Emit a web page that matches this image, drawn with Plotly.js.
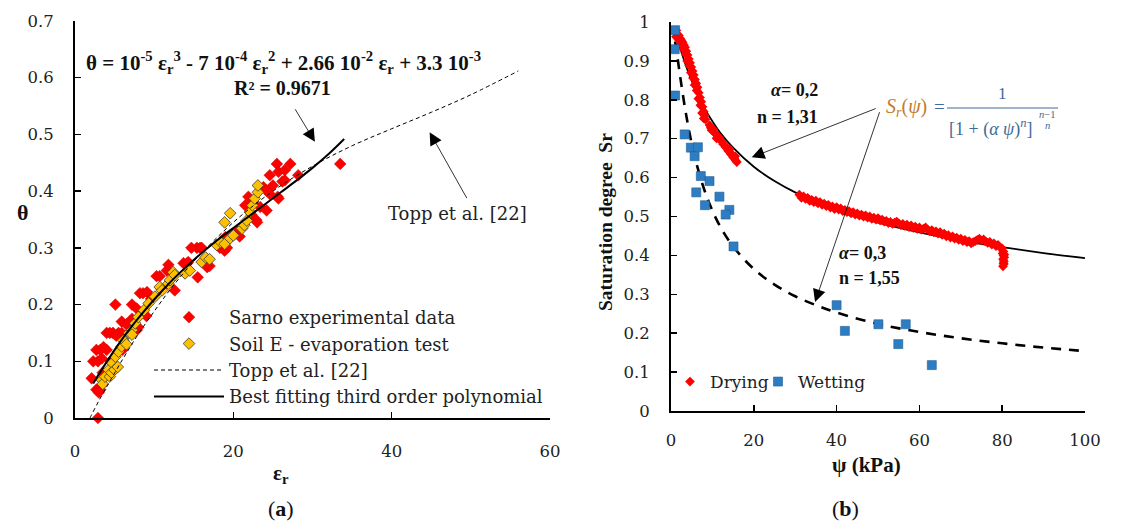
<!DOCTYPE html>
<html>
<head>
<meta charset="utf-8">
<script src="https://cdn.plot.ly/plotly-3.0.1.min.js"></script>
<style>html,body{margin:0;padding:0;background:#fff;}#chart{width:1148px;height:522px;}</style>
</head>
<body>
<div id="chart"></div>
<script>
// ---------------- (a) data ----------------
const sarnoEps = [2.9,2.7,2.9,3.2,3.0,2.1,2.3,2.9,3.4,2.7,3.2,4.0,3.6,3.5,4.5,4.0,4.4,4.8,5.5,5.9,5.2,6.0,5.9,6.5,7.2,7.8,5.1,7.2,7.8,8.0,8.2,8.6,9.1,9.0,9.6,10.3,10.7,10.9,11.6,11.8,12.6,13.7,14.1,14.3,14.7,15.4,15.8,15.5,16.0,16.7,17.0,18.3,18.9,19.2,19.0,20.0,20.5,20.8,21.5,21.9,22.3,22.5,22.9,23.0,23.4,23.8,24.2,24.2,24.6,24.6,25.0,25.5,25.6,25.7,25.7,26.2,26.5,26.5,27.2,28.2,33.5];
const sarnoTheta = [0.0,0.05,0.05,0.05,0.045,0.07,0.10,0.10,0.105,0.12,0.12,0.12,0.125,0.08,0.10,0.15,0.15,0.15,0.15,0.15,0.145,0.12,0.17,0.165,0.175,0.155,0.20,0.20,0.193,0.16,0.22,0.22,0.222,0.18,0.21,0.25,0.25,0.228,0.26,0.27,0.225,0.273,0.272,0.275,0.30,0.30,0.30,0.248,0.30,0.266,0.268,0.30,0.295,0.30,0.319,0.325,0.33,0.32,0.375,0.39,0.358,0.378,0.349,0.345,0.372,0.407,0.366,0.401,0.428,0.395,0.41,0.448,0.39,0.434,0.387,0.417,0.419,0.437,0.448,0.428,0.448];

const soilEps = [3.4,3.5,3.8,4.25,4.4,4.6,4.7,5.0,5.1,5.4,5.5,5.9,6.1,6.5,6.8,7.2,7.2,7.6,8.0,8.7,9.3,10.1,10.7,11.0,11.8,12.0,12.4,12.6,13.9,14.5,16.0,16.5,17.0,17.9,18.4,18.9,19.6,20.0,21.1,21.4,21.7,18.9,19.6,22.1,22.4,22.7,23.1,23.1];
const soilTheta = [0.067,0.06,0.073,0.085,0.073,0.08,0.097,0.085,0.108,0.09,0.117,0.126,0.137,0.13,0.15,0.155,0.147,0.167,0.178,0.19,0.202,0.214,0.231,0.225,0.237,0.243,0.257,0.252,0.255,0.26,0.275,0.283,0.28,0.305,0.31,0.307,0.317,0.322,0.334,0.34,0.348,0.345,0.361,0.363,0.375,0.387,0.398,0.41];

const toppEps   = [1.9,2,3,4,6,8,10,12,15,20,25,30,35,40,45,50,56];
const toppTheta = [0.0,0.003,0.030,0.055,0.103,0.148,0.188,0.226,0.276,0.345,0.400,0.444,0.480,0.510,0.539,0.570,0.612];

const fitEps   = [2.3,4,6,8,10,12,14,16,18,20,22,24,26,28,30,32,34];
const fitTheta = [0.061,0.099,0.140,0.176,0.209,0.239,0.266,0.291,0.314,0.335,0.356,0.377,0.398,0.419,0.441,0.465,0.492];

// ---------------- (b) data ----------------
const dryPsi = [1.0,1.3,1.6,1.2,1.9,2.2,1.8,2.5,2.8,2.4,3.1,3.4,3.0,3.7,3.5,4.0,4.3,3.9,4.6,4.4,4.9,5.2,4.8,5.5,5.3,5.8,6.1,5.7,6.4,6.2,6.7,7.0,6.6,7.3,7.1,7.6,7.9,7.5,8.1,8.3,7.9,
  9.3,9.6,9.8,10.2,10.5,10.8,11.2,11.0,11.6,12.0,12.3,12.6,12.9,13.2,13.5,13.8,14.1,14.4,14.7,15.0,15.3,15.6,15.9,15.5,14.2,
  31.0,31.5,32,32.5,33,33.5,34,34.5,35,35.5,36,36.5,37,37.5,38,38.5,39,39.5,40,40.5,41,41.5,42,42.5,43,43.5,44,44.5,45,45.5,46,46.5,47,47.5,48,48.5,49,49.5,50,50.5,51,51.5,52,52.5,53,53.5,54,54.5,55,55.5,56,56.5,57,57.5,58,58.5,59,59.5,60,60.5,61,61.5,62,62.5,63,63.5,64,64.5,65,65.5,66,66.5,67,67.5,68,68.5,69,69.5,70,70.5,71,71.5,72,72.5,73,73.5,74,74.5,75,75.5,76,76.5,77,77.5,78,78.5,79,79.5,80,80.3,80.3,80.5,80.2,80.4,80.3,80.2,80.4,80.5,80.1];
const drySr = [0.975,0.978,0.968,0.962,0.965,0.958,0.955,0.953,0.948,0.944,0.941,0.935,0.930,0.925,0.918,0.915,0.905,0.900,0.895,0.888,0.884,0.874,0.870,0.864,0.856,0.852,0.842,0.838,0.832,0.824,0.818,0.806,0.803,0.795,0.786,0.782,0.770,0.766,0.760,0.750,0.752,
  0.735,0.728,0.722,0.724,0.716,0.712,0.708,0.701,0.703,0.695,0.693,0.686,0.684,0.678,0.676,0.669,0.667,0.661,0.658,0.652,0.650,0.644,0.640,0.655,0.673,
  0.556,0.548,0.552,0.545,0.548,0.540,0.543,0.537,0.541,0.534,0.537,0.530,0.533,0.527,0.530,0.523,0.526,0.519,0.524,0.518,0.521,0.514,0.517,0.511,0.514,0.508,0.511,0.505,0.508,0.502,0.505,0.500,0.503,0.497,0.500,0.494,0.497,0.492,0.496,0.490,0.492,0.487,0.489,0.483,0.486,0.481,0.484,0.487,0.482,0.478,0.481,0.476,0.479,0.473,0.477,0.471,0.474,0.468,0.472,0.466,0.469,0.472,0.466,0.462,0.465,0.459,0.462,0.456,0.460,0.453,0.456,0.449,0.452,0.446,0.449,0.443,0.446,0.440,0.443,0.437,0.440,0.434,0.437,0.431,0.434,0.437,0.440,0.443,0.438,0.441,0.436,0.432,0.435,0.428,0.431,0.424,0.427,0.420,0.418,0.410,0.400,0.395,0.390,0.385,0.380,0.372,0.378,0.402,0.405];

const wetPsi = [1.0,0.9,1.0,3.3,4.8,6.5,5.7,7.2,9.3,6.1,11.7,8.2,14.1,13.2,15.1,40.0,42.0,50.1,54.9,56.7,63.0];
const wetSr  = [0.979,0.930,0.811,0.711,0.677,0.678,0.655,0.604,0.591,0.562,0.551,0.529,0.517,0.505,0.423,0.272,0.206,0.223,0.172,0.223,0.118];

const vgDryPsi = [1,2,3,4,5,6,8,10,12,15,20,25,30,40,50,60,70,80,90,100];
const vgDrySr  = [0.973,0.940,0.907,0.876,0.849,0.824,0.780,0.745,0.714,0.677,0.628,0.591,0.562,0.517,0.484,0.459,0.438,0.421,0.406,0.393];
const vgWetPsi = [1,1.5,2,3,4,5,6,8,10,12,15,20,25,30,35,40,50,60,70,80,90,100];
const vgWetSr  = [0.95,0.914,0.876,0.804,0.741,0.687,0.642,0.570,0.515,0.472,0.423,0.365,0.325,0.295,0.272,0.253,0.224,0.203,0.187,0.174,0.163,0.154];

// ---------------- layout helpers ----------------
const W = 1148, H = 522;
const SERIF = "Liberation Serif, 'Times New Roman', serif";
const WIDE = "DejaVu Serif, serif";
const fx = p => p / W;
const fy = p => 1 - p / H;
const FORM = '#3e6b96';

const traces = [
  {x: sarnoEps, y: sarnoTheta, xaxis:'x', yaxis:'y', type:'scatter', mode:'markers', name:'Sarno experimental data',
   marker:{symbol:'diamond', size:9, color:'#ff0000', line:{width:0.5, color:'#d00000'}}, cliponaxis:false, legend:'legend'},
  {x: soilEps, y: soilTheta, xaxis:'x', yaxis:'y', type:'scatter', mode:'markers', name:'Soil E - evaporation test',
   marker:{symbol:'diamond', size:9, color:'#ffc000', line:{width:0.8, color:'#3a3a3a'}}, cliponaxis:false, legend:'legend'},
  {x: toppEps, y: toppTheta, xaxis:'x', yaxis:'y', type:'scatter', mode:'lines', name:'Topp et al. [22]',
   line:{color:'#000', width:1, dash:'4px,3px', shape:'spline'}, legend:'legend'},
  {x: fitEps, y: fitTheta, xaxis:'x', yaxis:'y', type:'scatter', mode:'lines', name:'Best fitting third order polynomial',
   line:{color:'#000', width:2, shape:'spline'}, legend:'legend'},
  {x: vgDryPsi, y: vgDrySr, xaxis:'x2', yaxis:'y2', type:'scatter', mode:'lines', showlegend:false,
   line:{color:'#000', width:1.8, shape:'spline'}},
  {x: vgWetPsi, y: vgWetSr, xaxis:'x2', yaxis:'y2', type:'scatter', mode:'lines', showlegend:false,
   line:{color:'#000', width:2.6, dash:'10px,8px', shape:'spline'}},
  {x: dryPsi, y: drySr, xaxis:'x2', yaxis:'y2', type:'scatter', mode:'markers', name:'Drying',
   marker:{symbol:'diamond', size:7.5, color:'#ff0000'}, cliponaxis:false, legend:'legend2'},
  {x: wetPsi, y: wetSr, xaxis:'x2', yaxis:'y2', type:'scatter', mode:'markers', name:'Wetting',
   marker:{symbol:'square', size:9, color:'#2e7dc2', line:{width:0.6, color:'#1f5f99'}}, cliponaxis:false, legend:'legend3'}
];

const axisCommon = {
  showgrid:false, zeroline:false, showline:true, linecolor:'#000', linewidth:2,
  ticks:'inside', ticklen:6, tickwidth:1.5, tickcolor:'#000',
  tickfont:{family:WIDE, size:16.5, color:'#222'}, fixedrange:true
};

const ann = (x, y, text, size, extra) => Object.assign({
  xref:'paper', yref:'paper', x:fx(x), y:fy(y), text:text, showarrow:false,
  font:{family:SERIF, size:size, color:'#111'}, xanchor:'center', yanchor:'middle'
}, extra || {});

const arrowAnn = (xr, yr, hx, hy, tx, ty) => ({
  xref:xr, yref:yr, axref:xr, ayref:yr, x:hx, y:hy, ax:tx, ay:ty, text:'',
  showarrow:true, arrowhead:2, arrowsize:3.2, arrowwidth:0.8, arrowcolor:'#000', standoff:0, startstandoff:0
});

const smallLegend = (xpx) => ({x:fx(xpx), y:fy(364), xanchor:'left', yanchor:'top', orientation:'h',
  bgcolor:'rgba(0,0,0,0)', itemwidth:30, font:{family:WIDE, size:17, color:'#222'}});

const layout = {
  width:W, height:H, margin:{l:0, r:0, t:0, b:0}, paper_bgcolor:'#fff', plot_bgcolor:'rgba(0,0,0,0)',
  font:{family:SERIF, size:19, color:'#222'},
  xaxis: Object.assign({}, axisCommon, {domain:[fx(75), fx(550)], range:[0,60], dtick:20, anchor:'y', ticklabelstandoff:17}),
  yaxis: Object.assign({}, axisCommon, {domain:[fy(418), fy(21)], range:[0,0.7], dtick:0.1, anchor:'x', ticklabelstandoff:16}),
  xaxis2: Object.assign({}, axisCommon, {domain:[fx(671), fx(1085)], range:[0,100], dtick:20, anchor:'y2', ticklabelstandoff:13}),
  yaxis2: Object.assign({}, axisCommon, {domain:[fy(411), fy(22)], range:[0,1], dtick:0.1, anchor:'x2', ticklabelstandoff:16}),
  legend:{x:fx(149), y:fy(299), xanchor:'left', yanchor:'top', bgcolor:'rgba(0,0,0,0)', itemwidth:70,
          font:{family:WIDE, size:18, color:'#222'}, tracegroupgap:0, traceorder:'normal'},
  legend2: smallLegend(670),
  legend3: smallLegend(758),
  shapes:[
    {type:'line', xref:'paper', yref:'paper', x0:fx(947), x1:fx(1058), y0:fy(108), y1:fy(108), line:{color:FORM, width:1}}
  ],
  annotations:[
    // (a) texts
    ann(283, 62, '<b>θ = 10<sup>-5</sup> ε<sub>r</sub><sup>3</sup> - 7 10<sup>-4</sup> ε<sub>r</sub><sup>2</sup> + 2.66 10<sup>-2</sup> ε<sub>r</sub> + 3.3 10<sup>-3</sup></b>', 21),
    ann(282, 88, '<b>R² = 0.9671</b>', 20),
    ann(457, 213, 'Topp et al. [22]', 18, {font:{family:WIDE, size:18, color:'#222'}}),
    ann(22, 212, '<b>θ</b>', 22),
    ann(281, 474, '<b>ε<sub>r</sub></b>', 21),
    ann(281, 508, '(<b>a</b>)', 22),
    // (b) texts
    ann(605, 222, '<b>Saturation degree  Sr</b>', 19.5, {textangle:-90}),
    ann(866, 465, '<b>ψ (kPa)</b>', 21),
    ann(845, 508, '(<b>b</b>)', 22),
    ann(820, 90, '<b><i>α</i>= 0,2</b>', 18, {xanchor:'right'}),
    ann(820, 117, '<b>n = 1,31</b>', 18, {xanchor:'right'}),
    ann(837, 253, '<b><i>α</i>= 0,3</b>', 18, {xanchor:'left'}),
    ann(837, 278, '<b>n = 1,55</b>', 18, {xanchor:'left'}),
    ann(884, 108, '<i>S<sub>r</sub></i>(<i>ψ</i>)', 20, {xanchor:'left', font:{family:SERIF, size:20, color:'#c27c2c'}}),
    ann(939, 107, '=', 19, {font:{family:SERIF, size:19, color:FORM}}),
    ann(1002, 94, '1', 17, {font:{family:SERIF, size:17, color:FORM}}),
    ann(947, 128, '[1 + (<i>α ψ</i>)<sup><i>n</i></sup>]', 18, {xanchor:'left', font:{family:SERIF, size:18, color:FORM}}),
    ann(1047, 114, '<i>n</i>−1', 10.5, {font:{family:SERIF, size:10.5, color:FORM}}),
    ann(1047, 125, '<i>n</i>', 10.5, {font:{family:SERIF, size:10.5, color:FORM}}),
    // arrows
    arrowAnn('x', 'y', 30.3, 0.487, 27.7, 0.547),
    arrowAnn('x', 'y', 44.8, 0.504, 49.6, 0.385),
    arrowAnn('x2', 'y2', 19.5, 0.652, 49.8, 0.779),
    arrowAnn('x2', 'y2', 34.8, 0.28, 50.5, 0.772)
  ]
};

Plotly.newPlot('chart', traces, layout, {staticPlot:true, displayModeBar:false});
</script>
</body>
</html>
